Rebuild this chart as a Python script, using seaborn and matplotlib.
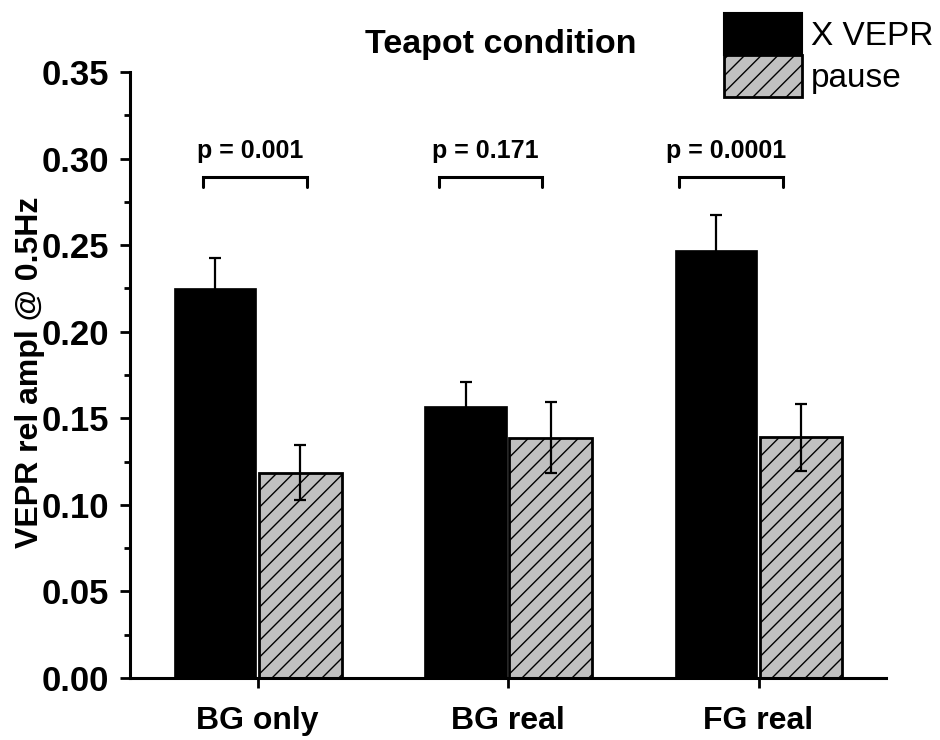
import numpy as np
import pandas as pd
import matplotlib
matplotlib.use("Agg")
import matplotlib.pyplot as plt
from matplotlib.patches import Patch
from matplotlib.ticker import MultipleLocator, FormatStrFormatter
import seaborn as sns

# Data
conditions = ["BG only", "BG real", "FG real"]
series_names = ["X VEPR", "pause"]
xvepr_mean = [0.225, 0.157, 0.247]
xvepr_err = [0.0174, 0.0141, 0.0202]
pause_mean = [0.1185, 0.1387, 0.1391]
pause_err = [0.0158, 0.0205, 0.0193]
p_labels = ["p = 0.001", "p = 0.171", "p = 0.0001"]

df = pd.DataFrame({
    "condition": conditions * 2,
    "series": [series_names[0]] * 3 + [series_names[1]] * 3,
    "value": xvepr_mean + pause_mean,
    "err": xvepr_err + pause_err,
})

sns.set_theme(style="ticks")
plt.rcParams["font.family"] = ["Liberation Sans", "DejaVu Sans"]
plt.rcParams["hatch.linewidth"] = 1.0
plt.rcParams["text.color"] = "black"
plt.rcParams["axes.labelcolor"] = "black"
plt.rcParams["xtick.color"] = "black"
plt.rcParams["ytick.color"] = "black"

fig = plt.figure(figsize=(9.4, 7.4), dpi=100)
ax = fig.add_axes([0.1383, 0.0838, 0.8045, 0.8189])

colors = {"X VEPR": "black", "pause": "#c0c0c0"}
sns.barplot(data=df, x="condition", y="value", hue="series", order=conditions,
            hue_order=series_names, palette=colors, width=0.68, gap=0.03,
            errorbar=None, legend=False, ax=ax, linewidth=0, saturation=1)

bars = ax.patches
for i, bar in enumerate(bars):
    bar.set_edgecolor("black")
    if i >= len(conditions):
        bar.set_hatch("//")
        bar.set_linewidth(2.0)
    else:
        bar.set_linewidth(0.5)

# Error bars at bar centers
centers = [b.get_x() + b.get_width() / 2 for b in bars]
heights = [b.get_height() for b in bars]
errs = list(df["err"])
ax.errorbar(centers, heights, yerr=errs, fmt="none", ecolor="black",
            elinewidth=1.6, capsize=4.3, capthick=1.6, zorder=1)

# Significance brackets
bracket_x = [-0.01, 0.93, 1.89]
half_w = 0.207
y_top, y_foot = 0.2896, 0.2838
for bx, lab in zip(bracket_x, p_labels):
    ax.plot([bx - half_w, bx - half_w, bx + half_w, bx + half_w],
            [y_foot, y_top, y_top, y_foot], color="black", lw=2.2,
            solid_joinstyle="miter", clip_on=False)
    ax.text(bx - 0.02, 0.2975, lab, ha="center", va="bottom",
            fontsize=18, fontweight="bold")

ax.set_xlim(-0.51, 2.51)
ax.set_ylim(0, 0.35)
ax.yaxis.set_major_locator(MultipleLocator(0.05))
ax.yaxis.set_minor_locator(MultipleLocator(0.025))
ax.yaxis.set_major_formatter(FormatStrFormatter("%.2f"))

for s in ["top", "right"]:
    ax.spines[s].set_visible(False)
for s in ["left", "bottom"]:
    ax.spines[s].set_linewidth(2.2)
    ax.spines[s].set_color("black")

ax.tick_params(axis="both", which="major", direction="out", length=7,
               width=2.0, color="black")
ax.tick_params(axis="y", which="minor", direction="out", length=4,
               width=2.0, color="black")
ax.tick_params(axis="y", which="major", labelsize=25, pad=8)
ax.tick_params(axis="x", which="major", labelsize=23, pad=13)
for lab in ax.get_xticklabels() + ax.get_yticklabels():
    lab.set_fontweight("bold")

ax.set_xlabel("")
ax.set_ylabel("VEPR rel ampl @ 0.5Hz", fontsize=23, fontweight="bold")
ax.yaxis.set_label_coords(-0.113, 0.505)
ax.set_title("Teapot condition", fontsize=24.5, fontweight="bold", pad=14, x=0.49)

handles = [Patch(facecolor="black", edgecolor="black", linewidth=1.5),
           Patch(facecolor="#c0c0c0", edgecolor="black", hatch="//", linewidth=2.0)]
fig.legend(handles, series_names, loc="upper left",
           bbox_to_anchor=(724 / 940, 1 - 13 / 740), frameon=False,
           fontsize=24, handlelength=2.35, handleheight=1.55,
           handletextpad=0.25, labelspacing=0.02, borderpad=0, borderaxespad=0)

fig.savefig("out.png", dpi=100)
